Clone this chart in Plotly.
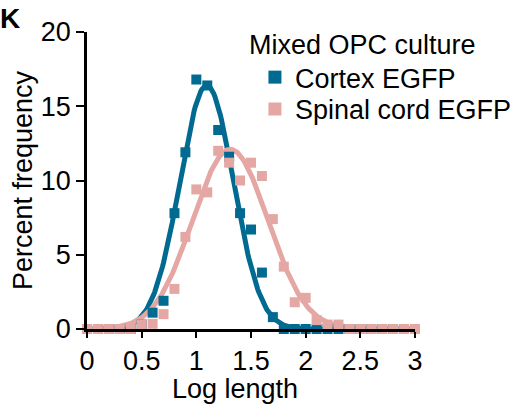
import numpy as np
import plotly.graph_objects as go

# ---- data ----
log_length = [0.0, 0.1, 0.2, 0.3, 0.4, 0.5, 0.6, 0.7, 0.8, 0.9,
              1.0, 1.1, 1.2, 1.3, 1.4, 1.5, 1.6, 1.7, 1.8, 1.9,
              2.0, 2.1, 2.2, 2.3, 2.4, 2.5, 2.6, 2.7, 2.8, 2.9, 3.0]

cortex_egfp = [0, 0, 0, 0, 0, 0.3, 1.1, 1.9, 7.8, 11.9,
               16.8, 16.4, 13.4, 11.6, 7.8, 6.7, 3.8, 0.8, 0, 0,
               0, 0, 0, 0, 0, 0, 0, 0, 0, 0, 0]

spinal_cord_egfp = [0, 0, 0, 0, 0, 0.3, 0.35, 1.0, 2.7, 6.2,
                    9.4, 9.2, 12.0, 11.2, 10.0, 11.2, 10.3, 7.4, 4.2, 1.8,
                    2.1, 0.6, 0.3, 0.3, 0, 0, 0, 0, 0, 0, 0]

# Gaussian fit parameters
cortex_fit_amp, cortex_fit_mean, cortex_fit_sd = 16.4, 1.095, 0.245
spinal_fit_amp, spinal_fit_mean, spinal_fit_sd = 12.1, 1.31, 0.345

x_ticks = [0, 0.5, 1, 1.5, 2, 2.5, 3]
x_tick_labels = ["0", "0.5", "1", "1.5", "2", "2.5", "3"]
y_ticks = [0, 5, 10, 15, 20]
y_tick_labels = ["0", "5", "10", "15", "20"]

series_names = ["Cortex EGFP", "Spinal cord EGFP"]
legend_title = "Mixed OPC culture"
panel_label = "K"

BLUE = "#006A91"
PINK = "#E4A7A4"
FONT = "Liberation Sans, Arial, Helvetica, sans-serif"
FS = 27

xs = np.linspace(0, 3, 301)


def gauss(x, a, m, s):
    return a * np.exp(-0.5 * ((x - m) / s) ** 2)


fig = go.Figure()

fig.add_trace(go.Scatter(x=xs, y=gauss(xs, cortex_fit_amp, cortex_fit_mean, cortex_fit_sd),
                         mode="lines", line=dict(color=BLUE, width=5),
                         showlegend=False, hoverinfo="skip", cliponaxis=False))
fig.add_trace(go.Scatter(x=xs, y=gauss(xs, spinal_fit_amp, spinal_fit_mean, spinal_fit_sd),
                         mode="lines", line=dict(color=PINK, width=5),
                         showlegend=False, hoverinfo="skip", cliponaxis=False))
fig.add_trace(go.Scatter(x=log_length, y=cortex_egfp, mode="markers",
                         name=series_names[0], showlegend=False,
                         marker=dict(symbol="square", size=10, color=BLUE),
                         cliponaxis=False))
fig.add_trace(go.Scatter(x=log_length, y=spinal_cord_egfp, mode="markers",
                         name=series_names[1], showlegend=False,
                         marker=dict(symbol="square", size=10, color=PINK),
                         cliponaxis=False))

# legend entries (larger symbols, as in the reference legend)
fig.add_trace(go.Scatter(x=[None], y=[None], mode="markers", name=series_names[0],
                         marker=dict(symbol="square", size=13, color=BLUE),
                         legend="legend"))
fig.add_trace(go.Scatter(x=[None], y=[None], mode="markers", name=series_names[1],
                         marker=dict(symbol="square", size=13, color=PINK),
                         legend="legend2"))

axis_common = dict(showgrid=False, zeroline=False, showline=True,
                   linecolor="black", linewidth=2.5, ticks="outside",
                   tickcolor="black", tickwidth=2,
                   tickfont=dict(family=FONT, size=FS, color="black"))

fig.update_xaxes(range=[0, 3], tickvals=x_ticks, ticktext=x_tick_labels,
                 ticklen=6, **axis_common)
fig.update_yaxes(range=[0, 20], tickvals=y_ticks, ticktext=y_tick_labels,
                 ticklen=8,
                 title=dict(text="Percent frequency", standoff=1,
                            font=dict(family=FONT, size=FS, color="black")),
                 **axis_common)

fig.add_annotation(text="Log length", xref="paper", yref="paper",
                   x=0.45, y=-0.145, xanchor="center", yanchor="top",
                   showarrow=False,
                   font=dict(family=FONT, size=FS, color="black"))
fig.add_annotation(text=legend_title, xref="paper", yref="paper",
                   x=0.488, y=1.012, xanchor="left", yanchor="top",
                   showarrow=False,
                   font=dict(family=FONT, size=FS, color="black"))
fig.add_annotation(text="<b>" + panel_label + "</b>", xref="paper", yref="paper",
                   x=-0.271, y=1.105, xanchor="left", yanchor="top",
                   showarrow=False,
                   font=dict(family=FONT, size=28, color="black"))

legend_common = dict(xanchor="left", yanchor="top", bgcolor="rgba(0,0,0,0)",
                     itemwidth=30, font=dict(family=FONT, size=FS, color="black"))

fig.update_layout(
    width=524, height=416,
    margin=dict(l=87, r=109, t=32, b=87, autoexpand=False),
    paper_bgcolor="white", plot_bgcolor="white",
    font=dict(family=FONT, size=FS, color="black"),
    legend=dict(x=0.512, y=0.929, **legend_common),
    legend2=dict(x=0.512, y=0.822, **legend_common),
    showlegend=True,
)

fig.write_html("out.html")
